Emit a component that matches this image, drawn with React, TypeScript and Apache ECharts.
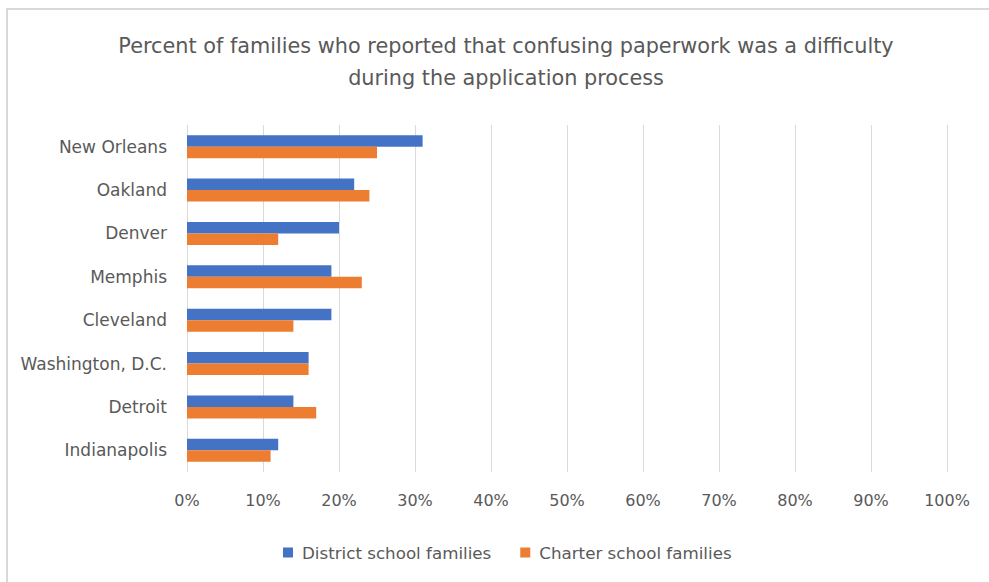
import React, { useEffect, useRef } from "react";
import * as echarts from "echarts";

const cities = ["New Orleans", "Oakland", "Denver", "Memphis", "Cleveland", "Washington, D.C.", "Detroit", "Indianapolis"];
const districtValues = [31, 22, 20, 19, 19, 16, 14, 12];
const charterValues = [25, 24, 12, 23, 14, 16, 17, 11];
const seriesNames = ["District school families", "Charter school families"];
const titleLines = ["Percent of families who reported that confusing paperwork was a difficulty", "during the application process"];

const FONT = "'DejaVu Sans', sans-serif";
const TEXT = "#595959";

export default function App() {
  const ref = useRef<HTMLDivElement>(null);
  useEffect(() => {
    if (!ref.current) return;
    const chart = echarts.init(ref.current, null, { renderer: "svg" });
    chart.setOption({
      animation: false,
      backgroundColor: "#ffffff",
      textStyle: { fontFamily: FONT },
      title: {
        text: titleLines.join("\n"),
        left: 501,
        textAlign: "center",
        top: 25,
        textStyle: { fontFamily: FONT, fontSize: 20.8, fontWeight: "normal", color: TEXT, lineHeight: 32 },
      },
      graphic: [
        {
          type: "rect",
          shape: { x: 7, y: 9, width: 1000, height: 600 },
          style: { fill: "none", stroke: "#d9d9d9", lineWidth: 2 },
          silent: true,
        },
      ],
      legend: {
        data: seriesNames,
        left: 278,
        top: 539,
        itemWidth: 10,
        itemHeight: 10,
        itemGap: 29,
        icon: "rect",
        textStyle: { fontFamily: FONT, fontSize: 16.7, color: TEXT, padding: [0, 0, 0, 4] },
      },
      grid: { left: 187, right: 42, top: 125, height: 347, containLabel: false },
      xAxis: {
        type: "value",
        min: 0,
        max: 100,
        interval: 10,
        axisLabel: { formatter: "{value}%", color: TEXT, fontSize: 16, fontFamily: FONT, margin: 20 },
        axisLine: { show: false },
        axisTick: { show: false },
        splitLine: { lineStyle: { color: "#d9d9d9", width: 1 } },
      },
      yAxis: {
        type: "category",
        data: cities,
        inverse: true,
        axisLabel: { color: TEXT, fontSize: 17, fontFamily: FONT, margin: 20 },
        axisLine: { show: false },
        axisTick: { show: false },
      },
      series: [
        {
          name: seriesNames[0],
          type: "bar",
          data: districtValues,
          barWidth: 11.5,
          barGap: "0%",
          itemStyle: { color: "#4472c4" },
        },
        {
          name: seriesNames[1],
          type: "bar",
          data: charterValues,
          barWidth: 11.5,
          barGap: "0%",
          itemStyle: { color: "#ed7d31" },
        },
      ],
    });
    return () => chart.dispose();
  }, []);
  return <div ref={ref} style={{ position: "absolute", left: 0, top: 0, width: 989, height: 582 }} />;
}
